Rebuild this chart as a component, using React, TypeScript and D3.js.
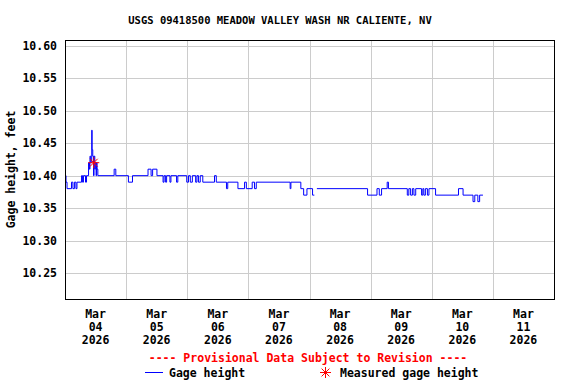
import React from 'react';
import * as d3 from 'd3';

const title = 'USGS 09418500 MEADOW VALLEY WASH NR CALIENTE, NV';
const yLabel = 'Gage height, feet';
const startIso = '2026-03-04T00:00:00Z';
const endIso = '2026-03-12T00:00:00Z';
const yTicks = [10.25, 10.3, 10.35, 10.4, 10.45, 10.5, 10.55, 10.6];

// hours after Mar 04 00:00 where the gage height changes; NaN = no data from there on
const stepHours = [
    0, 0.4, 0.8, 2.55, 3.1, 3.7, 4.3, 4.7, 6.5, 6.9, 7.25, 8.05, 8.45, 9.25, 9.6, 9.8, 10.1, 10.5,
    10.65, 10.9, 11.2, 11.4, 11.7, 11.9, 12.2, 12.4, 12.6, 12.9, 19.3, 19.95, 24.9, 26.5, 32.6, 33.8,
    34.4, 36.1, 38.5, 38.9, 39.5, 39.9, 41.2, 41.6, 43.8, 44.3, 47.8, 48.5, 49.2, 50.0, 51.3, 51.8,
    52.4, 53.1, 54.1, 58.7, 59.4, 63.4, 63.9, 67.9, 70.5, 71.2, 73.5, 74.4, 75.1, 88.4, 88.7, 92.6,
    93.7, 95.0, 97.2, 97.9, 98.9, 118.8, 122.5, 123.4, 124.3, 126.5, 127.0, 134.4, 135.0, 135.7,
    136.4, 137.0, 137.7, 140.0, 140.5, 140.9, 141.5, 142.3, 142.9, 145.5, 154.5, 156.3, 160.2, 160.9,
    162.1, 162.8, 164.1,
];
const stepValues = [
    10.4, 10.39, 10.38, 10.39, 10.38, 10.39, 10.38, 10.39, 10.4, 10.39, 10.4, 10.39, 10.4, 10.42, 10.41,
    10.43, 10.42, 10.47, 10.44, 10.43, 10.4, 10.43, 10.41, 10.42, 10.4, 10.42, 10.41, 10.4, 10.41, 10.4,
    10.39, 10.4, 10.41, 10.4, 10.41, 10.4, 10.39, 10.4, 10.39, 10.4, 10.39, 10.4, 10.39, 10.4, 10.39,
    10.4, 10.39, 10.4, 10.39, 10.4, 10.39, 10.4, 10.39, 10.4, 10.39, 10.38, 10.39, 10.38, 10.39, 10.38,
    10.39, 10.38, 10.39, 10.38, 10.39, 10.38, 10.37, 10.38, 10.37, NaN, 10.38, 10.37, 10.38, 10.37,
    10.38, 10.39, 10.38, 10.37, 10.38, 10.37, 10.38, 10.37, 10.38, 10.37, 10.38, 10.37, 10.38, 10.37,
    10.38, 10.37, 10.38, 10.37, 10.36, 10.37, 10.36, 10.37, NaN,
];

const measuredHours = [11.3];
const measuredValues = [10.42];

const W = 576;
const H = 384;
const left = 65;
const right = 554;
const top = 40;
const bottom = 299;
const font = '"DejaVu Sans Mono", monospace';

export default function App() {
    const start = new Date(startIso);
    const x = d3.scaleUtc().domain([start, new Date(endIso)]).range([left, right]);
    const y = d3.scaleLinear().domain([10.21, 10.609]).range([bottom, top]);
    const at = (h: number) => new Date(start.getTime() + h * 3600e3);

    // expand change points into horizontal steps
    const pts: { h: number; v: number }[] = [];
    stepHours.forEach((h, i) => {
        const v = stepValues[i];
        if (isNaN(v) || i === stepHours.length - 1) {
            pts.push({ h, v: NaN });
        } else {
            pts.push({ h, v });
            pts.push({ h: stepHours[i + 1], v });
        }
    });
    const line = d3
        .line<{ h: number; v: number }>()
        .defined(d => !isNaN(d.v))
        .x(d => x(at(d.h)))
        .y(d => y(d.v));

    const days = d3.utcDay.range(start, new Date(endIso));
    const innerDays = days.slice(1);
    const fmtMon = d3.utcFormat('%b');
    const fmtDay = d3.utcFormat('%d');
    const fmtYear = d3.utcFormat('%Y');

    const star = (cx: number, cy: number, r: number) =>
        d3.range(4).map(k => {
            const a = (k * Math.PI) / 4;
            return `M${cx - r * Math.cos(a)},${cy - r * Math.sin(a)}L${cx + r * Math.cos(a)},${cy + r * Math.sin(a)}`;
        }).join('');

    return (
        <svg
            width={W}
            height={H}
            style={{ position: 'absolute', left: 0, top: 0, background: '#fff' }}
            fontFamily={font}
            fontWeight="bold"
        >
            <text x={280} y={24} fontSize={10.5} textAnchor="middle">
                {title}
            </text>

            <g shapeRendering="crispEdges" stroke="#cccccc" strokeWidth={1}>
                {yTicks.map(t => (
                    <line key={t} x1={left} x2={right} y1={Math.round(y(t)) + 0.5} y2={Math.round(y(t)) + 0.5} />
                ))}
                {innerDays.map(d => (
                    <line key={+d} x1={Math.round(x(d)) + 0.5} x2={Math.round(x(d)) + 0.5} y1={top} y2={bottom} />
                ))}
            </g>

            <path d={line(pts) || ''} fill="none" stroke="#0000ff" strokeWidth={1} />

            {measuredHours.map((h, i) => (
                <path key={h} d={star(x(at(h)), y(measuredValues[i]), 5.5)} stroke="#ff0000" strokeWidth={1} />
            ))}

            <rect
                x={left + 0.5}
                y={top + 0.5}
                width={right - left}
                height={bottom - top}
                fill="none"
                stroke="#000"
                strokeWidth={1.2}
                shapeRendering="crispEdges"
            />

            {yTicks.map(t => (
                <text key={t} x={57} y={y(t) + 4} fontSize={11.5} textAnchor="end">
                    {t.toFixed(2)}
                </text>
            ))}

            <text
                transform={`translate(15,${(top + bottom) / 2}) rotate(-90)`}
                fontSize={11.5}
                textAnchor="middle"
            >
                {yLabel}
            </text>

            {days.map(d => {
                const cx = x(d3.utcHour.offset(d, 12));
                return (
                    <text key={+d} fontSize={11.5} textAnchor="middle">
                        <tspan x={cx} y={318}>{fmtMon(d)}</tspan>
                        <tspan x={cx} y={331}>{fmtDay(d)}</tspan>
                        <tspan x={cx} y={344}>{fmtYear(d)}</tspan>
                    </text>
                );
            })}

            <text x={308} y={362} fontSize={11.5} textAnchor="middle" fill="#ff0000">
                ---- Provisional Data Subject to Revision ----
            </text>

            <line x1={145} x2={163} y1={372.5} y2={372.5} stroke="#0000ff" strokeWidth={1} />
            <text x={169} y={377} fontSize={11.5}>
                Gage height
            </text>
            <path d={star(325.5, 372.5, 5.5)} stroke="#ff0000" strokeWidth={1} />
            <text x={340} y={377} fontSize={11.5}>
                Measured gage height
            </text>
        </svg>
    );
}
